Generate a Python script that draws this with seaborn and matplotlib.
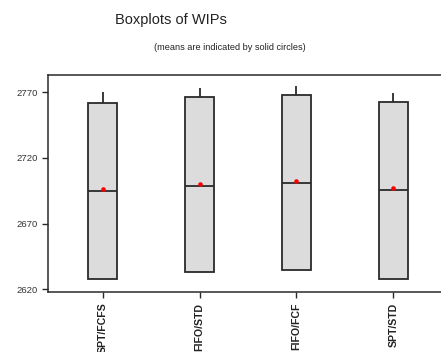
import numpy as np
import pandas as pd
import seaborn as sns
import matplotlib
matplotlib.use("Agg")
import matplotlib.pyplot as plt

# Summary statistics of WIP per dispatching rule
rules = ["SPT/FCFS", "FIFO/STD", "FIFO/FCF", "SPT/STD"]
q1 = [2627.7, 2633.0, 2634.3, 2627.7]
median = [2694.5, 2698.8, 2700.9, 2695.3]
q3 = [2762.0, 2766.6, 2768.0, 2762.8]
upper = [2770.5, 2773.0, 2774.8, 2769.2]
means = [2696.3, 2700.3, 2702.4, 2696.8]
yticks = [2620, 2670, 2720, 2770]

# Five-number samples: lower whisker sits on Q1
rows = []
for r, a, m, b, u in zip(rules, q1, median, q3, upper):
    for v in (a, a, m, b, u):
        rows.append({"rule": r, "wip": v})
df = pd.DataFrame(rows)
mean_df = pd.DataFrame({"rule": rules, "wip": means})

sns.set_theme(style="white")
plt.rcParams["font.family"] = ["Liberation Sans", "DejaVu Sans"]

fig = plt.figure(figsize=(4.41, 3.52), dpi=100)
ax = fig.add_axes([0.1095, 0.1696, 0.91, 0.6164])

edge = "#2a2a2a"
sns.boxplot(data=df, x="rule", y="wip", order=rules, whis=np.inf, width=0.30,
            color="#dcdcdc", linewidth=1.3, showcaps=False, ax=ax,
            boxprops=dict(facecolor="#dcdcdc", edgecolor=edge),
            whiskerprops=dict(color=edge, linewidth=1.3),
            medianprops=dict(color=edge, linewidth=1.3),
            flierprops=dict(marker=""))
sns.stripplot(data=mean_df, x="rule", y="wip", order=rules, jitter=False,
              color="#ff0000", size=3.3, ax=ax, zorder=5)

ax.set_xlim(-0.56, 3.58)
ax.set_ylim(2617.6, 2783.0)
ax.set_yticks(yticks)
ax.set_yticklabels([str(t) for t in yticks])
ax.set_xlabel("")
ax.set_ylabel("")

for side in ("left", "top", "bottom"):
    ax.spines[side].set_color(edge)
    ax.spines[side].set_linewidth(1.1)
ax.spines["right"].set_visible(False)

ax.tick_params(axis="y", direction="out", length=4.5, width=1.0, color=edge,
               labelsize=6.8, labelcolor="#333333", pad=3, left=True)
ax.tick_params(axis="x", direction="out", length=4.5, width=1.0, color=edge,
               labelsize=7.6, labelcolor="#222222", pad=3, bottom=True)
for lbl in ax.get_xticklabels():
    lbl.set_rotation(90)
    lbl.set_va("top")
    lbl.set_ha("center")
    lbl.set_fontweight("semibold")

fig.text(0.388, 0.943, "Boxplots of WIPs", ha="center", va="center",
         fontsize=10.5, color="#222222")
fig.text(0.522, 0.866, "(means are indicated by solid circles)", ha="center",
         va="center", fontsize=6.6, color="#222222")

fig.savefig("out.png", dpi=100)
